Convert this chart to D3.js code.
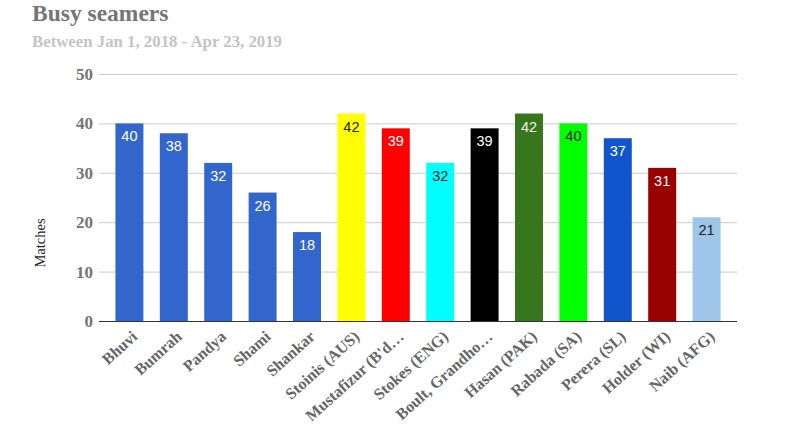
<!DOCTYPE html>
<html><head><meta charset="utf-8">
<script src="https://cdn.jsdelivr.net/npm/d3@7"></script>
<style>body{margin:0;background:#fff}svg{display:block}</style>
</head><body><svg id="c" width="789" height="428"></svg>
<script>
const categories = ["Bhuvi","Bumrah","Pandya","Shami","Shankar","Stoinis (AUS)","Mustafizur (B'd…","Stokes (ENG)","Boult, Grandho…","Hasan (PAK)","Rabada (SA)","Perera (SL)","Holder (WI)","Naib (AFG)"];
const matches = [40,38,32,26,18,42,39,32,39,42,40,37,31,21];
const barColors = ["#3366cc","#3366cc","#3366cc","#3366cc","#3366cc","#ffff00","#ff0000","#00ffff","#000000","#38761d","#00ff00","#1155cc","#990000","#9fc5e8"];
const labelColors = ["#fff","#fff","#fff","#fff","#fff","#222","#fff","#222","#fff","#eef5e6","#222","#fff","#fff","#222"];
const yTicks = [0,10,20,30,40,50];

const svg = d3.select("#c");
const serif = "'Liberation Serif','Times New Roman',serif";
const x = d3.scaleBand().domain(categories).range([99,737]).paddingInner(0.37).paddingOuter(0.37);
const y = d3.scaleLinear().domain([0,50]).range([321,74]);

svg.append("text").attr("x",32).attr("y",21).attr("font-family",serif).attr("font-weight","bold")
  .attr("font-size",23.5).attr("fill","#757575").text("Busy seamers");
svg.append("text").attr("x",32).attr("y",47).attr("font-family",serif).attr("font-weight","bold")
  .attr("font-size",16.8).attr("fill","#c4c4c4").text("Between Jan 1, 2018 - Apr 23, 2019");

// grid
svg.append("g").selectAll("line").data(yTicks.filter(d=>d>0)).join("line")
  .attr("x1",99).attr("x2",737).attr("y1",d=>y(d)+0.5).attr("y2",d=>y(d)+0.5)
  .attr("stroke","#cccccc").attr("stroke-width",1);

// y axis labels
const ya = svg.append("g").attr("transform","translate(93,0)")
  .call(d3.axisLeft(y).tickValues(yTicks).tickSize(0).tickPadding(0));
ya.select(".domain").remove();
ya.selectAll("text").attr("font-family",serif).attr("font-weight","bold").attr("font-size",17).attr("fill","#757575");

svg.append("text").attr("transform","translate(45,243) rotate(-90)").attr("text-anchor","middle")
  .attr("font-family",serif).attr("font-size",14.5).attr("fill","#222").text("Matches");

// bars
svg.append("g").selectAll("rect").data(categories).join("rect")
  .attr("x",d=>x(d)).attr("width",x.bandwidth())
  .attr("y",(d,i)=>y(matches[i])).attr("height",(d,i)=>y(0)-y(matches[i]))
  .attr("fill",(d,i)=>barColors[i]);

svg.append("g").selectAll("text").data(categories).join("text")
  .attr("x",d=>x(d)+x.bandwidth()/2).attr("y",(d,i)=>y(matches[i])+18)
  .attr("text-anchor","middle").attr("font-family","'Liberation Sans',Arial,sans-serif")
  .attr("font-size",14.5).attr("fill",(d,i)=>labelColors[i]).text((d,i)=>matches[i]);

// x axis
const xa = svg.append("g").attr("transform","translate(0,321)")
  .call(d3.axisBottom(x).tickSize(0).tickPadding(0));
xa.select(".domain").attr("d","M99,0.5H737").attr("stroke","#333").attr("stroke-width",1.2);
xa.selectAll(".tick text").attr("font-family",serif).attr("font-weight","bold").attr("font-size",16)
  .attr("fill","#666").attr("text-anchor","end").attr("dy",0)
  .attr("transform","translate(9,17) rotate(-42)");
</script></body></html>
